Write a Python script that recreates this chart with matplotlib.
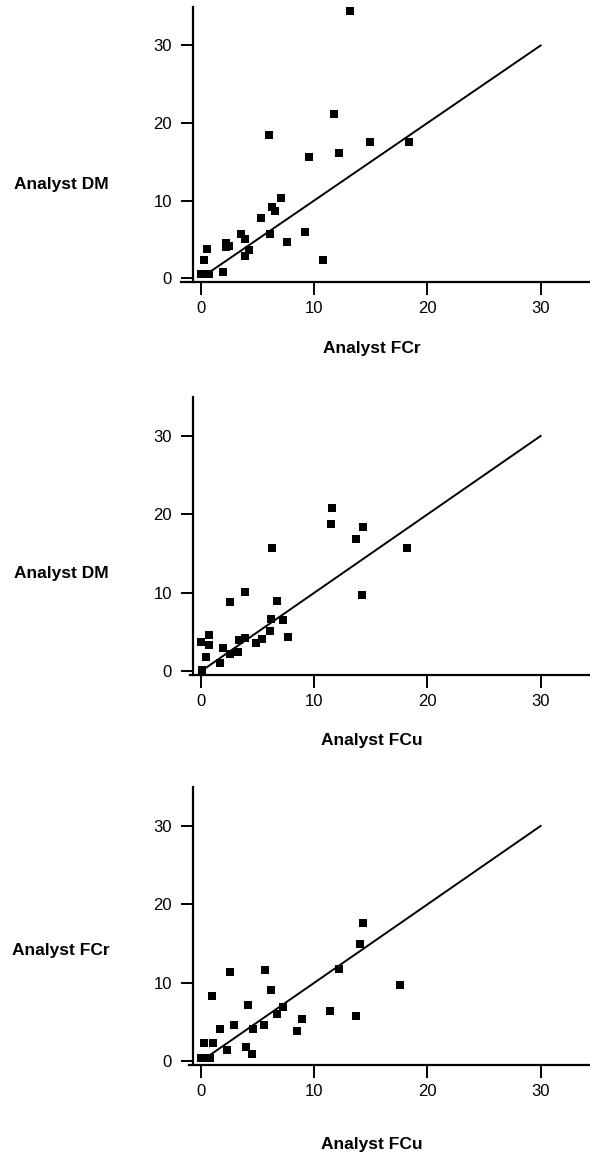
import numpy as np
import matplotlib.pyplot as plt

plt.rcParams['font.family'] = ['Liberation Sans', 'DejaVu Sans']

# panel 1: FCr vs DM
fcr_1 = [13.2, 11.8, 6.0, 14.9, 18.4, 12.2, 9.6, 7.1, 6.3, 6.6, 5.3, 3.6, 3.9, 6.1,
         9.2, 7.6, 2.2, 2.5, 2.2, 0.6, 4.3, 3.9, 0.3, 10.8, 2.0, 0.0, 0.3, 0.7]
dm_1 = [34.4, 21.2, 18.5, 17.5, 17.5, 16.2, 15.6, 10.3, 9.2, 8.6, 7.8, 5.7, 5.1, 5.7,
        5.9, 4.7, 4.6, 4.2, 4.0, 3.8, 3.7, 2.8, 2.3, 2.4, 0.8, 0.5, 0.5, 0.5]

# panel 2: FCu vs DM
fcu_2 = [11.6, 11.5, 14.3, 13.7, 18.2, 6.3, 14.2, 3.9, 2.6, 6.7, 6.2, 7.3, 6.1, 7.7,
         3.9, 3.4, 5.4, 4.9, 0.7, 0.0, 0.7, 2.0, 0.5, 2.6, 3.3, 1.7, 0.1]
dm_2 = [20.8, 18.8, 18.4, 16.9, 15.7, 15.7, 9.7, 10.1, 8.8, 9.0, 6.7, 6.6, 5.1, 4.4,
        4.2, 4.0, 4.1, 3.6, 4.6, 3.7, 3.4, 3.0, 1.9, 2.2, 2.5, 1.1, 0.2]

# panel 3: FCu vs FCr
fcu_3 = [14.3, 14.1, 12.2, 2.6, 5.7, 17.6, 6.2, 1.0, 4.2, 7.3, 6.7, 11.4, 13.7, 8.9,
         2.9, 5.6, 1.7, 4.6, 8.5, 0.3, 1.1, 2.3, 4.0, 4.5, 0.0, 0.4, 0.8]
fcr_3 = [17.7, 14.9, 11.8, 11.4, 11.6, 9.8, 9.1, 8.3, 7.2, 6.9, 6.1, 6.4, 5.8, 5.4,
         4.7, 4.6, 4.1, 4.1, 3.9, 2.4, 2.3, 1.4, 1.9, 1.0, 0.4, 0.4, 0.4]

line_x = [0.5, 30]

panels = [
    (fcr_1, dm_1, 'Analyst DM', 'Analyst FCr'),
    (fcu_2, dm_2, 'Analyst DM', 'Analyst FCu'),
    (fcu_3, fcr_3, 'Analyst FCr', 'Analyst FCu'),
]

W, H = 590, 1155
fig = plt.figure(figsize=(W / 100, H / 100), dpi=100)

# (x-spine y px, top px, ylabel y px, xlabel y px, left px)
boxes = [(281.7, 6.7, 185, 348, 180.6),
         (675, 396.7, 573, 740, 190),
         (1065, 786.7, 950, 1145, 189)]
right_px = 590
px_per_x = 11.33

for (x, y, ylab, xlab), (bot, top, ly, lx, left_px) in zip(panels, boxes):
    ax = fig.add_axes([left_px / W, 1 - bot / H, (right_px - left_px) / W, (bot - top) / H])
    ax.scatter(x, y, marker='s', s=26, color='black', linewidths=0, zorder=3)
    ax.plot(line_x, line_x, color='black', lw=1.4)
    ax.set_xlim((left_px - 200.7) / px_per_x, (right_px - 200.7) / px_per_x)
    ax.set_ylim(-0.45, 35)
    ax.spines['right'].set_visible(False)
    ax.spines['top'].set_visible(False)
    ax.spines['left'].set_position(('data', -0.7))
    ax.spines['left'].set_linewidth(1.6)
    ax.spines['bottom'].set_linewidth(1.6)
    ax.set_xticks([0, 10, 20, 30])
    ax.set_yticks([0, 10, 20, 30])
    ax.tick_params(axis='both', direction='out', length=9, width=1.4, labelsize=12)
    ax.tick_params(axis='x', pad=5)
    ax.tick_params(axis='y', pad=6)
    fig.text(61 / W, 1 - ly / H, ylab, ha='center', va='center',
             fontsize=12.5, fontweight='bold')
    fig.text(372 / W, 1 - lx / H, xlab, ha='center', va='center',
             fontsize=12.5, fontweight='bold')

fig.savefig('out.png', dpi=100)
